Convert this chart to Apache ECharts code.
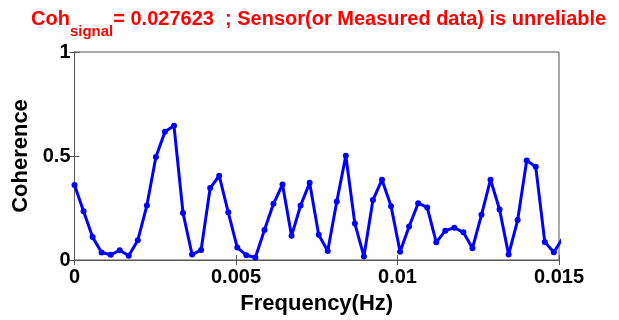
<!DOCTYPE html>
<html>
<head>
<meta charset="utf-8">
<script src="https://cdn.jsdelivr.net/npm/echarts@6/dist/echarts.min.js"></script>
<style>
  html, body { margin: 0; padding: 0; background: #fff; }
  #chart { width: 619px; height: 320px; }
</style>
</head>
<body>
<div id="chart"></div>
<script>
// frequency bins (Hz)
const freq = [
  0, 0.00028, 0.00056, 0.00084, 0.00112, 0.0014, 0.00168, 0.00196, 0.00224, 0.00252,
  0.0028, 0.00308, 0.00336, 0.00364, 0.00392, 0.0042, 0.00448, 0.00476, 0.00504, 0.00532,
  0.0056, 0.00588, 0.00616, 0.00644, 0.00672, 0.007, 0.00728, 0.00756, 0.00784, 0.00812,
  0.0084, 0.00868, 0.00896, 0.00924, 0.00952, 0.0098, 0.01008, 0.01036, 0.01064, 0.01092,
  0.0112, 0.01148, 0.01176, 0.01204, 0.01232, 0.0126, 0.01288, 0.01316, 0.01344, 0.01372,
  0.014, 0.01428, 0.01456, 0.01484, 0.01512
]
const coherence = [
  0.361, 0.234, 0.110, 0.036, 0.025, 0.047, 0.020, 0.095, 0.262, 0.495,
  0.616, 0.645, 0.226, 0.026, 0.048, 0.346, 0.405, 0.229, 0.060, 0.023,
  0.012, 0.144, 0.270, 0.363, 0.116, 0.262, 0.371, 0.121, 0.043, 0.281,
  0.501, 0.175, 0.017, 0.288, 0.386, 0.259, 0.040, 0.161, 0.273, 0.253,
  0.085, 0.141, 0.155, 0.133, 0.056, 0.217, 0.386, 0.243, 0.026, 0.192,
  0.478, 0.448, 0.087, 0.037, 0.107
]
const xTicks = [0, 0.005, 0.01, 0.015]
const yTicks = [0, 0.5, 1]

const cohValue = '0.027623'
const verdict = 'Sensor(or Measured data) is unreliable'

const font = 'Liberation Sans, Arial, Helvetica, sans-serif'
const axisGrey = '#555'
const chart = echarts.init(document.getElementById('chart'), null, { renderer: 'canvas' })

const labelStyle = { fontSize: 20, fontWeight: 'bold', color: '#000', fontFamily: font }
const nameStyle  = { fontSize: 22, fontWeight: 'bold', color: '#000', fontFamily: font }

// MATLAB-style box: ticks point inward on every side
const boxAxis = {
  axisLine: { show: true, lineStyle: { color: axisGrey, width: 1 } },
  axisTick: { show: true, inside: true, length: 5, lineStyle: { color: axisGrey } },
  splitLine: { show: false },
}

chart.setOption({
  animation: false,
  title: {
    left: 26, top: 4,
    text: `{a|Coh}{s|signal}{a|= ${cohValue}  ; ${verdict}}`,
    textStyle: {
      fontFamily: font,
      rich: {
        a: { fontSize: 20, fontWeight: 'bold', color: '#ff0000', fontFamily: font, verticalAlign: 'top', lineHeight: 20 },
        s: { fontSize: 15, fontWeight: 'bold', color: '#ff0000', fontFamily: font, verticalAlign: 'bottom', lineHeight: 30 },
      },
    },
  },
  grid: {
    left: 74.5, right: 60, top: 52, bottom: 53,
    show: true, borderColor: axisGrey, borderWidth: 1, backgroundColor: 'transparent',
  },
  xAxis: [
    {
      type: 'value', min: xTicks[0], max: xTicks[xTicks.length - 1], interval: 0.005,
      position: 'bottom',
      name: 'Frequency(Hz)', nameLocation: 'middle', nameGap: 33,
      nameTextStyle: nameStyle,
      ...boxAxis,
      axisLabel: { ...labelStyle, margin: 7 },
    },
    {
      type: 'value', min: xTicks[0], max: xTicks[xTicks.length - 1], interval: 0.005,
      position: 'top',
      ...boxAxis,
      axisLabel: { show: false },
    },
  ],
  yAxis: [
    {
      type: 'value', min: yTicks[0], max: yTicks[yTicks.length - 1], interval: 0.5,
      position: 'left',
      name: 'Coherence', nameLocation: 'middle', nameGap: 39,
      nameTextStyle: nameStyle,
      ...boxAxis,
      axisLabel: { ...labelStyle, margin: 4 },
    },
    {
      type: 'value', min: yTicks[0], max: yTicks[yTicks.length - 1], interval: 0.5,
      position: 'right',
      ...boxAxis,
      axisLabel: { show: false },
    },
  ],
  series: [
    {
      type: 'line',
      data: freq.map((f, i) => [f, coherence[i]]),
      clip: true,
      symbol: 'circle',
      symbolSize: 6,
      lineStyle: { color: '#0000ff', width: 3 },
      itemStyle: { color: '#0000ff' },
    },
    // empty series so the top / right tick axes get drawn
    { type: 'line', xAxisIndex: 1, yAxisIndex: 1, data: [], silent: true },
  ],
})
</script>
</body>
</html>
